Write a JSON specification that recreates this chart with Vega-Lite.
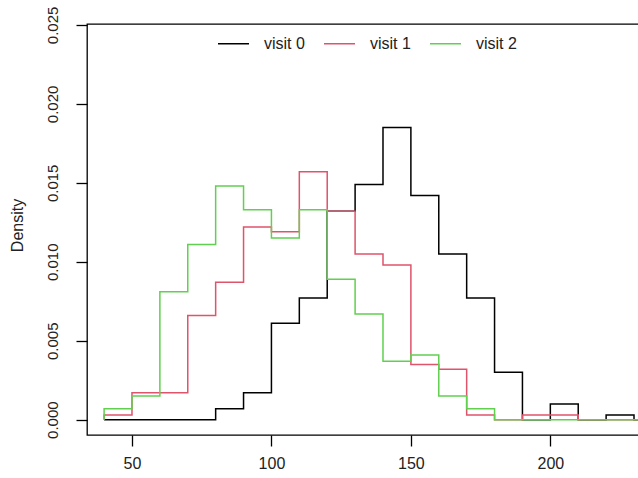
{
  "$schema": "https://vega.github.io/schema/vega-lite/v6.json",
  "width": 553,
  "height": 411,
  "autosize": {"type": "none"},
  "padding": {"left": 87, "top": 24, "right": 0, "bottom": 43},
  "background": "white",
  "config": {
    "view": {"stroke": "black", "strokeWidth": 1.3},
    "font": "Liberation Sans",
    "axis": {"grid": false, "domain": false, "tickColor": "black", "labelColor": "#222", "titleColor": "#222", "tickWidth": 1.3}
  },
  "data": {"values": [
    {"s":"visit 0","i":0,"x":40,"d":0},
    {"s":"visit 0","i":1,"x":40,"d":0},
    {"s":"visit 0","i":2,"x":50,"d":0},
    {"s":"visit 0","i":3,"x":60,"d":0},
    {"s":"visit 0","i":4,"x":70,"d":0},
    {"s":"visit 0","i":5,"x":80,"d":0.0007},
    {"s":"visit 0","i":6,"x":90,"d":0.0017},
    {"s":"visit 0","i":7,"x":100,"d":0.0061},
    {"s":"visit 0","i":8,"x":110,"d":0.0077},
    {"s":"visit 0","i":9,"x":120,"d":0.0132},
    {"s":"visit 0","i":10,"x":130,"d":0.0149},
    {"s":"visit 0","i":11,"x":140,"d":0.0185},
    {"s":"visit 0","i":12,"x":150,"d":0.0142},
    {"s":"visit 0","i":13,"x":160,"d":0.0105},
    {"s":"visit 0","i":14,"x":170,"d":0.0077},
    {"s":"visit 0","i":15,"x":180,"d":0.0030},
    {"s":"visit 0","i":16,"x":190,"d":0},
    {"s":"visit 0","i":17,"x":200,"d":0.0010},
    {"s":"visit 0","i":18,"x":210,"d":0},
    {"s":"visit 0","i":19,"x":220,"d":0.0003},
    {"s":"visit 0","i":20,"x":230,"d":0},
    {"s":"visit 0","i":21,"x":240,"d":0},
    {"s":"visit 1","i":0,"x":40,"d":0},
    {"s":"visit 1","i":1,"x":40,"d":0.0003},
    {"s":"visit 1","i":2,"x":50,"d":0.0017},
    {"s":"visit 1","i":3,"x":60,"d":0.0017},
    {"s":"visit 1","i":4,"x":70,"d":0.0066},
    {"s":"visit 1","i":5,"x":80,"d":0.0087},
    {"s":"visit 1","i":6,"x":90,"d":0.0122},
    {"s":"visit 1","i":7,"x":100,"d":0.0119},
    {"s":"visit 1","i":8,"x":110,"d":0.0157},
    {"s":"visit 1","i":9,"x":120,"d":0.0132},
    {"s":"visit 1","i":10,"x":130,"d":0.0105},
    {"s":"visit 1","i":11,"x":140,"d":0.0098},
    {"s":"visit 1","i":12,"x":150,"d":0.0035},
    {"s":"visit 1","i":13,"x":160,"d":0.0032},
    {"s":"visit 1","i":14,"x":170,"d":0.0003},
    {"s":"visit 1","i":15,"x":180,"d":0},
    {"s":"visit 1","i":16,"x":190,"d":0.0003},
    {"s":"visit 1","i":17,"x":200,"d":0.0003},
    {"s":"visit 1","i":18,"x":210,"d":0},
    {"s":"visit 1","i":19,"x":220,"d":0},
    {"s":"visit 1","i":20,"x":230,"d":0},
    {"s":"visit 1","i":21,"x":240,"d":0},
    {"s":"visit 2","i":0,"x":40,"d":0},
    {"s":"visit 2","i":1,"x":40,"d":0.0007},
    {"s":"visit 2","i":2,"x":50,"d":0.0015},
    {"s":"visit 2","i":3,"x":60,"d":0.0081},
    {"s":"visit 2","i":4,"x":70,"d":0.0111},
    {"s":"visit 2","i":5,"x":80,"d":0.0148},
    {"s":"visit 2","i":6,"x":90,"d":0.0133},
    {"s":"visit 2","i":7,"x":100,"d":0.0115},
    {"s":"visit 2","i":8,"x":110,"d":0.0133},
    {"s":"visit 2","i":9,"x":120,"d":0.0089},
    {"s":"visit 2","i":10,"x":130,"d":0.0067},
    {"s":"visit 2","i":11,"x":140,"d":0.0037},
    {"s":"visit 2","i":12,"x":150,"d":0.0041},
    {"s":"visit 2","i":13,"x":160,"d":0.0015},
    {"s":"visit 2","i":14,"x":170,"d":0.0007},
    {"s":"visit 2","i":15,"x":180,"d":0},
    {"s":"visit 2","i":16,"x":190,"d":0},
    {"s":"visit 2","i":17,"x":200,"d":0},
    {"s":"visit 2","i":18,"x":210,"d":0},
    {"s":"visit 2","i":19,"x":220,"d":0},
    {"s":"visit 2","i":20,"x":230,"d":0},
    {"s":"visit 2","i":21,"x":240,"d":0}
  ]},
  "mark": {"type": "line", "interpolate": "step-after", "strokeWidth": 1.5, "clip": true},
  "encoding": {
    "x": {
      "field": "x", "type": "quantitative",
      "scale": {"domain": [33.87, 232.15], "nice": false, "zero": false},
      "axis": {"values": [50, 100, 150, 200], "format": "d", "title": null, "tickSize": 11, "labelPadding": 9, "labelFontSize": 16}
    },
    "y": {
      "field": "d", "type": "quantitative",
      "scale": {"domain": [-0.00097, 0.02506], "nice": false, "zero": false},
      "axis": {"values": [0, 0.005, 0.01, 0.015, 0.02, 0.025], "format": ".3f", "title": "Density",
               "tickSize": 11, "labelAngle": 270, "labelPadding": 16, "labelFontSize": 15,
               "titleFontSize": 16, "titleFontWeight": "normal", "titleAngle": 270,
               "titleX": -65, "titleY": 201, "titleAlign": "center", "titleBaseline": "alphabetic"}
    },
    "color": {
      "field": "s", "type": "nominal",
      "scale": {"domain": ["visit 0", "visit 1", "visit 2"], "range": ["#000000", "#DF536B", "#61D04F"]},
      "legend": {"orient": "none", "direction": "horizontal", "legendX": 130, "legendY": 3, "title": null,
                 "symbolType": "stroke", "symbolSize": 961, "symbolStrokeWidth": 1.5,
                 "labelFontSize": 16, "labelOffset": 14, "columnPadding": 16, "padding": 0, "labelColor": "#222"}
    },
    "order": {"field": "i", "type": "quantitative"}
  }
}
